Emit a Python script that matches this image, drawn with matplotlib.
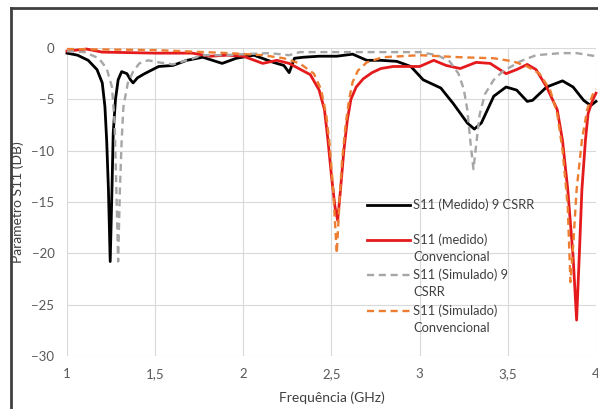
import matplotlib
matplotlib.use("Agg")
import matplotlib.pyplot as plt
from matplotlib.lines import Line2D

plt.rcParams['font.family'] = ['Lato', 'DejaVu Sans']

# S11 (Medido) 9 CSRR
f_med9 = [1.00, 1.06, 1.12, 1.17, 1.20, 1.215, 1.225, 1.235, 1.245, 1.255, 1.262, 1.275, 1.29,
          1.31, 1.34, 1.36, 1.375, 1.40, 1.44, 1.52, 1.60, 1.68, 1.77, 1.88, 1.96, 2.06, 2.17,
          2.23, 2.26, 2.29, 2.34, 2.43, 2.53, 2.62, 2.70, 2.78, 2.87, 2.95, 3.02, 3.12, 3.19,
          3.27, 3.31, 3.35, 3.42, 3.49, 3.55, 3.61, 3.64, 3.72, 3.81, 3.87, 3.93, 3.97, 4.00]
s_med9 = [-0.5, -0.7, -1.2, -2.1, -3.4, -5.7, -9.0, -13.8, -20.8, -13.8, -8.3, -5.0, -3.1,
          -2.3, -2.5, -3.1, -3.4, -2.9, -2.5, -1.8, -1.7, -1.2, -0.9, -1.5, -1.0, -0.7, -1.4,
          -1.7, -2.4, -1.0, -0.9, -0.8, -0.8, -0.6, -1.2, -1.2, -1.3, -1.8, -3.1, -3.9, -5.4,
          -7.3, -7.9, -7.3, -4.7, -3.8, -4.1, -5.2, -5.1, -3.8, -3.2, -3.8, -5.1, -5.6, -5.2]

# S11 (medido) Convencional
f_medc = [1.00, 1.11, 1.20, 1.50, 1.71, 1.81, 1.91, 2.00, 2.11, 2.19, 2.26, 2.38, 2.43, 2.46,
          2.48, 2.50, 2.52, 2.535, 2.55, 2.57, 2.59, 2.61, 2.64, 2.68, 2.73, 2.78, 2.85, 2.95,
          3.00, 3.08, 3.15, 3.23, 3.32, 3.40, 3.49, 3.55, 3.61, 3.66, 3.72, 3.78, 3.81, 3.84,
          3.87, 3.89, 3.905, 3.92, 3.94, 3.955, 3.98, 4.00]
s_medc = [-0.3, -0.1, -0.4, -0.5, -0.5, -0.8, -0.7, -0.8, -1.5, -1.2, -1.5, -2.6, -4.1, -6.0,
          -9.0, -12.5, -15.5, -16.8, -14.0, -10.0, -7.0, -5.0, -3.8, -3.0, -2.4, -2.0, -1.8, -1.8,
          -1.8, -1.2, -1.7, -2.0, -1.4, -1.5, -2.5, -2.1, -1.6, -2.1, -3.8, -6.0, -9.0, -13.8,
          -20.3, -26.5, -20.3, -13.8, -9.0, -6.4, -5.1, -4.4]

# S11 (Simulado) 9 CSRR
f_sim9 = [1.00, 1.10, 1.18, 1.225, 1.255, 1.27, 1.28, 1.29, 1.30, 1.31, 1.32, 1.345, 1.375,
          1.41, 1.46, 1.52, 1.60, 1.68, 1.77, 1.90, 2.00, 2.15, 2.26, 2.32, 2.50, 3.00, 3.10,
          3.17, 3.22, 3.25, 3.27, 3.29, 3.305, 3.32, 3.34, 3.37, 3.42, 3.47, 3.57, 3.66, 3.80,
          3.89, 4.00]
s_sim9 = [-0.3, -0.4, -1.0, -2.0, -3.8, -7.3, -13.8, -20.8, -13.8, -9.0, -5.7, -3.4, -2.3,
          -1.5, -1.2, -1.4, -1.6, -1.2, -0.7, -0.7, -0.6, -0.5, -0.7, -0.4, -0.4, -0.4, -0.7,
          -1.3, -2.5, -4.0, -6.0, -9.5, -11.8, -9.5, -6.5, -4.5, -3.1, -2.3, -1.3, -0.7, -0.5,
          -0.5, -0.8]

# S11 (Simulado) Convencional
f_simc = [1.00, 1.50, 1.92, 2.11, 2.23, 2.32, 2.40, 2.44, 2.47, 2.49, 2.51, 2.53, 2.545, 2.56,
          2.58, 2.60, 2.62, 2.65, 2.70, 2.79, 3.00, 3.23, 3.42, 3.53, 3.61, 3.68, 3.74, 3.78,
          3.81, 3.84, 3.855, 3.87, 3.89, 3.92, 3.95, 3.98, 4.00]
s_simc = [-0.1, -0.2, -0.5, -0.7, -1.0, -1.5, -2.5, -4.0, -6.5, -9.5, -14.0, -20.0, -15.0, -11.0,
          -7.5, -5.0, -3.3, -2.2, -1.4, -0.9, -0.7, -0.9, -1.0, -1.3, -1.8, -2.5, -4.1, -6.4,
          -9.9, -15.5, -22.8, -19.4, -13.8, -9.0, -6.0, -4.6, -4.0]

labels = ["S11 (Medido) 9 CSRR", "S11 (medido)\nConvencional",
          "S11 (Simulado) 9\nCSRR", "S11 (Simulado)\nConvencional"]
xticks = [1, 1.5, 2, 2.5, 3, 3.5, 4]
xticklabels = ["1", "1,5", "2", "2,5", "3", "3,5", "4"]
yticks = [0, -5, -10, -15, -20, -25, -30]

series = [(f_med9, s_med9, "#000000", "-", 2.0),
          (f_medc, s_medc, "#e41a1c", "-", 2.0),
          (f_sim9, s_sim9, "#a6a6a6", "--", 1.7),
          (f_simc, s_simc, "#ed7d31", "--", 1.7)]

fig = plt.figure(figsize=(5.98, 4.09), dpi=100)
ax = fig.add_axes([67/598, 53/409, 529/598, 308/409])

for x, y, c, ls, lw in series:
    ax.plot(x, y, color=c, linestyle=ls, linewidth=lw, clip_on=False,
            dashes=(3, 2) if ls == "--" else (None, None))

ax.set_xlim(1, 4)
ax.set_ylim(-30, 0)
ax.set_xticks(xticks)
ax.set_xticklabels(xticklabels)
ax.set_yticks(yticks)
ax.grid(True, color="#d9d9d9", linewidth=0.8)
ax.set_axisbelow(True)
for s in ax.spines.values():
    s.set_visible(False)
ax.tick_params(length=0, labelsize=9.5, labelcolor="#595959", pad=9)
ax.set_xlabel("Frequência (GHz)", fontsize=10, color="#404040", labelpad=8)
ax.set_ylabel("Parâmetro S11 (DB)", fontsize=10, color="#404040", labelpad=5)

# legenda desenhada a mao (sem caixa, alinhada na primeira linha)
leg_y = [0.490, 0.377, 0.263, 0.146]
dy = 17 / 308
for (x, y, c, ls, lw), lab, yy in zip(series, labels, leg_y):
    ax.add_line(Line2D([0.567, 0.648], [yy, yy], transform=ax.transAxes, color=c,
                       linestyle=ls, linewidth=lw,
                       dashes=(3, 2) if ls == "--" else (None, None)))
    for i, part in enumerate(lab.split("\n")):
        ax.text(0.654, yy - i * dy, part, transform=ax.transAxes, fontsize=9.3,
                color="#404040", va="center", ha="left")

# moldura escura do grafico
fig.add_artist(Line2D([11/598, 1], [1 - 8/409, 1 - 8/409], transform=fig.transFigure,
                      color="#404040", linewidth=2))
fig.add_artist(Line2D([11/598, 11/598], [0, 1 - 8/409], transform=fig.transFigure,
                      color="#404040", linewidth=2))

fig.savefig("out.png", dpi=100)
